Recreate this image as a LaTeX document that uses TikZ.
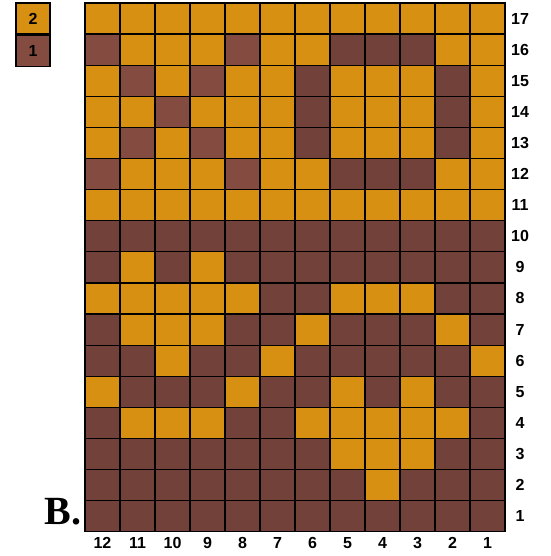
\documentclass[tikz,border=0pt]{standalone}
\usepackage{fontspec}
\setmainfont{Liberation Sans}
\newfontfamily\serifbold{Liberation Serif}
\usetikzlibrary{positioning}
\definecolor{o}{RGB}{216,144,18}
\definecolor{d}{RGB}{113,65,58}
\definecolor{l}{RGB}{132,76,65}
\tikzset{
    cell/.style={draw=black, line width=1.2pt},
    lab/.style={font=\fontsize{16}{16}\selectfont\bfseries, inner sep=0pt},
}

\begin{document}
\begin{tikzpicture}[x=1pt,y=-1pt]
    \def \w {35}
    \def \h {31.1}
    \def \xo {85}
    \def \yo {3}
    \useasboundingbox (0,0) rectangle (550,556);
    % chart: rows 17 (top) .. 1, columns 12 .. 1
    \foreach \cols [count=\j] in {
        {o,o,o,o,o,o,o,o,o,o,o,o},
        {l,o,o,o,l,o,o,d,d,d,o,o},
        {o,l,o,l,o,o,d,o,o,o,d,o},
        {o,o,l,o,o,o,d,o,o,o,d,o},
        {o,l,o,l,o,o,d,o,o,o,d,o},
        {l,o,o,o,l,o,o,d,d,d,o,o},
        {o,o,o,o,o,o,o,o,o,o,o,o},
        {d,d,d,d,d,d,d,d,d,d,d,d},
        {d,o,d,o,d,d,d,d,d,d,d,d},
        {o,o,o,o,o,d,d,o,o,o,d,d},
        {d,o,o,o,d,d,o,d,d,d,o,d},
        {d,d,o,d,d,o,d,d,d,d,d,o},
        {o,d,d,d,o,d,d,o,d,o,d,d},
        {d,o,o,o,d,d,o,o,o,o,o,d},
        {d,d,d,d,d,d,d,o,o,o,d,d},
        {d,d,d,d,d,d,d,d,o,d,d,d},
        {d,d,d,d,d,d,d,d,d,d,d,d}}{
        \foreach \c [count=\i] in \cols {
            \filldraw[cell, fill=\c] ({\xo+(\i-1)*\w},{\yo+(\j-1)*\h}) rectangle ({\xo+\i*\w},{\yo+\j*\h});
        }
        \pgfmathtruncatemacro{\n}{18-\j}
        \node[lab] (r\n) at ({\xo+12*\w+15},{\yo+(\j-0.5)*\h}) {\n};
    }
    \foreach \i in {1,...,12}{
        \pgfmathtruncatemacro{\n}{13-\i}
        \node[lab] (c\n) at ({\xo+(\i-0.5)*\w},543) {\n};
    }
    % legend
    \node[cell, fill=o, minimum width=34pt, minimum height=31pt, lab] (key2) at (33,18.5) {2};
    \node[cell, fill=l, minimum width=34pt, minimum height=31pt, lab, below=0pt of key2] (key1) {1};
    \node[anchor=base, inner sep=0pt, font=\serifbold\bfseries\fontsize{40}{40}\selectfont] (panel) at (63,524) {B.};
\end{tikzpicture}
\end{document}
